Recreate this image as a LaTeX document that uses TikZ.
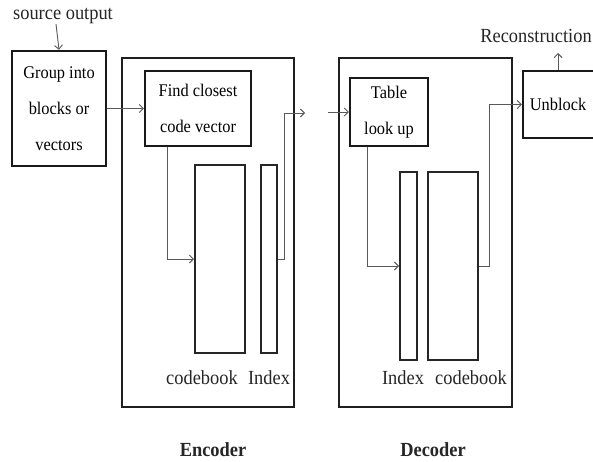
\documentclass[tikz,border=0pt]{standalone}
\usepackage{fontspec}
\setmainfont[FakeStretch=0.92]{Liberation Serif}
\usetikzlibrary{arrows.meta}
\begin{document}
\begin{tikzpicture}[x=1pt,y=-1pt,
  every node/.style={inner sep=0pt, font=\fontsize{17.8}{36}\selectfont},
  outerbox/.style={draw=black!88, line width=1.8pt, rectangle},
  blockbox/.style={draw=black!90, line width=2.4pt, rectangle, align=center},
  bar/.style={draw=black!85, line width=2pt, rectangle},
  conn/.style={draw=black!65, line width=0.9pt, -{Straight Barb[length=4pt,width=8pt]}},
  txt/.style={text=black!85, font=\fontsize{20}{22}\selectfont},
  bold/.style={font=\fontsize{20}{22}\selectfont\bfseries, text=black!85}]
\clip (0,0) rectangle (593,461);
\fill[white] (0,0) rectangle (593,461);
% top labels
\node[txt] (src) at (63,16) {source output};
\node[txt] (rec) at (536,36) {Reconstruction};
% blocks
\node[blockbox, minimum width=94pt, minimum height=115pt] (grp) at (59,108.5) {Group into\\blocks or\\vectors};
\node[outerbox, minimum width=172pt, minimum height=349pt] (enc) at (208,232.5) {};
\node[blockbox, minimum width=106pt, minimum height=75pt] (find) at (198,108.5) {Find closest\\code vector};
\node[bar, minimum width=50pt, minimum height=188pt] (ecb) at (220,259) {};
\node[bar, minimum width=16pt, minimum height=188pt] (eidx) at (269,259) {};
\node[outerbox, minimum width=173pt, minimum height=349pt] (dec) at (425.5,232.5) {};
\node[blockbox, minimum width=78pt, minimum height=68pt] (tbl) at (389,112) {Table\\look up};
\node[bar, minimum width=17pt, minimum height=188pt] (didx) at (408.5,266) {};
\node[bar, minimum width=50pt, minimum height=188pt] (dcb) at (453,266) {};
\node[blockbox, minimum width=75pt, minimum height=67pt] (unb) at (560.5,104.5) {\hspace*{-5pt}Unblock};
% bar labels
\node[txt] (lecb) at (202,378) {codebook};
\node[txt] (leidx) at (269,378) {Index};
\node[txt] (ldidx) at (403,378) {Index};
\node[txt] (ldcb) at (471,378) {codebook};
\node[bold] (lenc) at (213,450) {Encoder};
\node[bold] (ldec) at (433,450) {Decoder};
% coordinates
\coordinate (ej) at (284,113);
\coordinate (eout) at (305,113);
\coordinate (din) at (328,112);
\coordinate (recend) at (558,53);
% connectors
\draw[conn] ([xshift=-7pt]src.south) -- (grp.north);
\draw[conn] (grp) -- (find);
\draw[conn] ([xshift=-31pt]find.south) |- (ecb.west);
\draw[conn] (eidx.east) -| (ej) -- (eout);
\draw[conn] (din) -- (tbl.west);
\draw[conn] ([xshift=-22pt]tbl.south) |- (didx.west);
\draw[conn] (dcb.east) -- ++(10,0) |- (unb.west);
\draw[conn] ([xshift=-2.5pt]unb.north) -- (recend);
\end{tikzpicture}
\end{document}
